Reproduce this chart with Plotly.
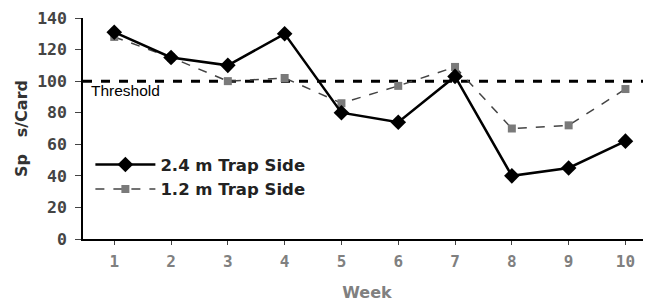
import plotly.graph_objects as go

weeks = [1, 2, 3, 4, 5, 6, 7, 8, 9, 10]
trap_24 = [131, 115, 110, 130, 80, 74, 103, 40, 45, 62]
trap_12 = [128, 115, 100, 102, 86, 97, 109, 70, 72, 95]
threshold = 100
y_ticks = [0, 20, 40, 60, 80, 100, 120, 140]

fig = go.Figure()
fig.add_trace(go.Scatter(x=[0.45, 10.6], y=[threshold, threshold], mode="lines",
                         line=dict(color="black", width=3, dash="dash"),
                         showlegend=False, hoverinfo="skip"))
fig.add_trace(go.Scatter(x=weeks, y=trap_12, mode="lines+markers", name="1.2 m Trap Side",
                         line=dict(color="#444444", width=1.5, dash="dash"),
                         marker=dict(symbol="square", size=8, color="#7a7a7a")))
fig.add_trace(go.Scatter(x=weeks, y=trap_24, mode="lines+markers", name="2.4 m Trap Side",
                         line=dict(color="black", width=2.5),
                         marker=dict(symbol="diamond", size=12, color="black")))

fig.add_annotation(x=0.55, y=threshold, text="Threshold", showarrow=False,
                   xanchor="left", yanchor="top", yshift=1,
                   font=dict(family="Liberation Sans, Arial", size=15.5, color="black"))

fig.update_layout(
    width=651, height=301,
    margin=dict(l=75, r=8, t=10, b=70),
    paper_bgcolor="white", plot_bgcolor="white",
    font=dict(family="DejaVu Sans, sans-serif", color="#555555"),
    showlegend=True,
    legend=dict(x=0.013, y=0.415, xanchor="left", yanchor="top",
                traceorder="reversed", bgcolor="rgba(0,0,0,0)",
                font=dict(family="DejaVu Sans, sans-serif", size=16.5, color="#222222", weight="bold"),
                itemwidth=60, tracegroupgap=0),
    xaxis=dict(range=[0.45, 10.45], tickmode="array", tickvals=weeks, automargin=False,
               ticks="outside", ticklen=4, showgrid=False, zeroline=False,
               ticklabelstandoff=3,
               showline=True, linecolor="black", linewidth=1.5,
               tickfont=dict(family="DejaVu Sans Mono, monospace", size=16, color="#808080", weight="bold"),
               title=dict(text="Week", font=dict(size=16, color="#808080", weight="bold"), standoff=17)),
    yaxis=dict(range=[0, 140], tickmode="array", tickvals=y_ticks, automargin=False,
               ticklabeloverflow="allow", ticklabelstandoff=5,
               ticks="outside", ticklen=6, showgrid=False, zeroline=False,
               showline=True, linecolor="black", linewidth=1.5,
               tickfont=dict(family="DejaVu Sans Mono, monospace", size=16.5, color="#444444", weight="bold"),
               title=dict(text="Sp   s/Card", font=dict(size=16, color="#333333", weight="bold"), standoff=6)),
)

fig.write_html("out.html")
